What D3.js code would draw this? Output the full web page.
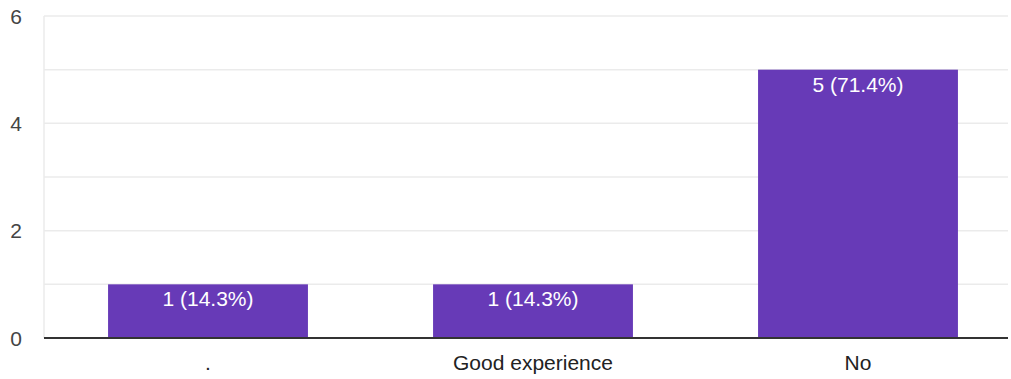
<!DOCTYPE html>
<html>
<head>
<meta charset="utf-8">
<script src="https://cdn.jsdelivr.net/npm/d3@7"></script>
<style>
  body { margin: 0; background: #fff; }
  svg text { font-family: Arial, "Liberation Sans", sans-serif; }
</style>
</head>
<body>
<svg id="chart" width="1011" height="379"></svg>
<script>
// data
let categories = [".", "Good experience", "No"];
let counts = [1, 1, 5];
let labels = ["1 (14.3%)", "1 (14.3%)", "5 (71.4%)"];
let yTicks = [0, 2, 4, 6];
let yGrid = [1, 2, 3, 4, 5, 6];

let svg = d3.select("#chart");

let plotLeft = 44, plotRight = 1008,
    plotTop = 16, plotBottom = 338;

let x = d3.scaleBand()
    .domain(categories)
    .range([45.5, 1020.5])
    .paddingInner(0.385)
    .paddingOuter(0.1925);

let y = d3.scaleLinear()
    .domain([0, 6])
    .range([plotBottom, plotTop]);

// gridlines
svg.append("g")
    .selectAll("line")
    .data(yGrid)
    .enter().append("line")
    .attr("x1", plotLeft)
    .attr("x2", plotRight)
    .attr("y1", d => y(d))
    .attr("y2", d => y(d))
    .attr("stroke", "#ebebeb")
    .attr("stroke-width", 1.5);

svg.append("line")
    .attr("x1", plotLeft).attr("x2", plotLeft)
    .attr("y1", plotTop).attr("y2", plotBottom)
    .attr("stroke", "#ebebeb")
    .attr("stroke-width", 1.5);

// y tick labels
svg.append("g")
    .selectAll("text")
    .data(yTicks)
    .enter().append("text")
    .attr("x", 22)
    .attr("y", d => y(d))
    .attr("dy", "0.36em")
    .attr("text-anchor", "end")
    .attr("font-size", 21)
    .attr("fill", "#444")
    .text(d => d);

// bars
svg.append("g")
    .selectAll("rect")
    .data(counts)
    .enter().append("rect")
    .attr("x", (d, i) => x(categories[i]))
    .attr("width", x.bandwidth())
    .attr("y", d => y(d))
    .attr("height", d => y(0) - y(d))
    .attr("fill", "#673ab7");

// bar labels
svg.append("g")
    .selectAll("text")
    .data(counts)
    .enter().append("text")
    .attr("x", (d, i) => x(categories[i]) + x.bandwidth() / 2)
    .attr("y", d => y(d) + 22)
    .attr("text-anchor", "middle")
    .attr("font-size", 21)
    .attr("fill", "#fff")
    .text((d, i) => labels[i]);

// baseline
svg.append("line")
    .attr("x1", plotLeft).attr("x2", plotRight)
    .attr("y1", y(0)).attr("y2", y(0))
    .attr("stroke", "#333")
    .attr("stroke-width", 2);

// category labels
svg.append("g")
    .selectAll("text")
    .data(categories)
    .enter().append("text")
    .attr("x", d => x(d) + x.bandwidth() / 2)
    .attr("y", 370)
    .attr("text-anchor", "middle")
    .attr("font-size", 21)
    .attr("fill", "#222")
    .text(d => d);
</script>
</body>
</html>
